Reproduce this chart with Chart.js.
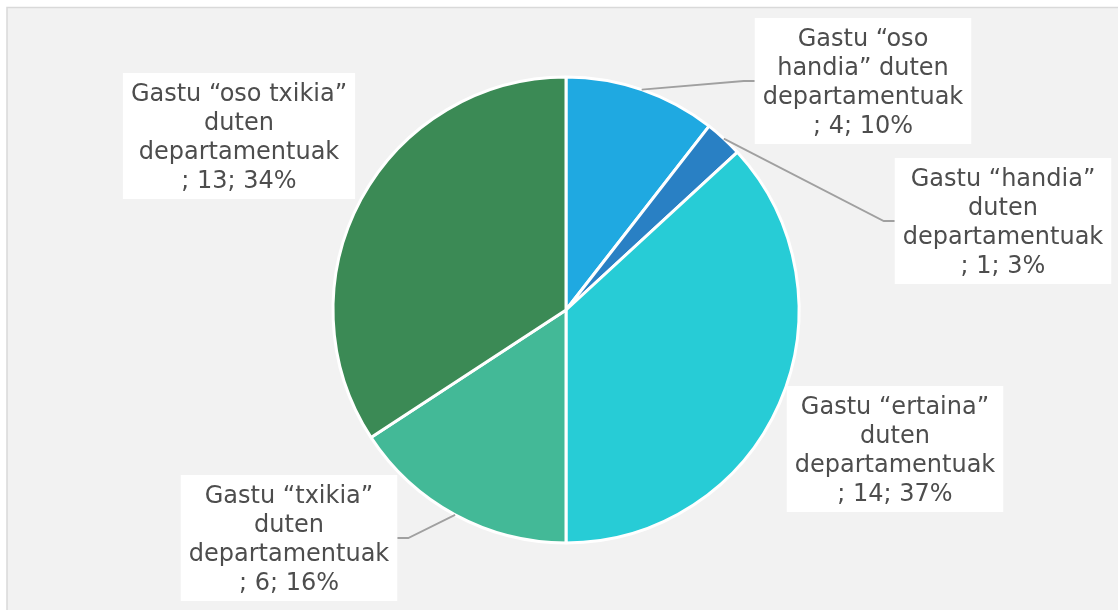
<!DOCTYPE html>
<html>
<head>
<meta charset="utf-8">
<script src="https://cdn.jsdelivr.net/npm/chart.js@4/dist/chart.umd.min.js"></script>
<style>
    body { margin: 0; background: #ffffff; }
    canvas { display: block; }
</style>
</head>
<body>
<canvas id="pieChart" width="1118" height="610"></canvas>
<script>
// Chart data
const categories = [
    'Gastu “oso handia” duten departamentuak',
    'Gastu “handia” duten departamentuak',
    'Gastu “ertaina” duten departamentuak',
    'Gastu “txikia” duten departamentuak',
    'Gastu “oso txikia” duten departamentuak'
];
const counts = [4, 1, 14, 6, 13];
const sliceColors = ['#1fa9e1', '#2980c4', '#27ccd6', '#43b997', '#3b8a55'];

// Label box centres (layout only) and whether a leader line is drawn
const labelBoxCenters = [[863, 81], [1003, 221], [895, 449], [289, 538], [239, 136]];
const labelHasLeader = [true, true, false, true, false];

const LABEL_FONT = '24px "DejaVu Sans"';
const LINE_HEIGHT = 29;

// Wrap text to a maximum width
function wrapText(ctx, text, maxWidth) {
    const words = text.split(' ');
    const lines = [];
    let current = '';
    words.forEach(word => {
        const test = current ? current + ' ' + word : word;
        if (current && ctx.measureText(test).width > maxWidth) {
            lines.push(current);
            current = word;
        } else {
            current = test;
        }
    });
    if (current) lines.push(current);
    return lines;
}

// Whole percentages that add up to 100 (largest remainder)
function roundedPercents(values) {
    const total = values.reduce((a, b) => a + b, 0);
    const raw = values.map(v => v / total * 100);
    const out = raw.map(Math.floor);
    let left = 100 - out.reduce((a, b) => a + b, 0);
    const order = raw.map((r, i) => i).sort((a, b) => (raw[b] - out[b]) - (raw[a] - out[a]));
    for (let k = 0; k < left; k++) out[order[k]] += 1;
    return out;
}

// Background panel with light border
const backgroundPlugin = {
    id: 'panelBackground',
    beforeDraw(chart) {
        const ctx = chart.ctx;
        ctx.save();
        ctx.fillStyle = '#ffffff';
        ctx.fillRect(0, 0, chart.width, chart.height);
        ctx.fillStyle = '#f2f2f2';
        ctx.fillRect(7, 7.5, chart.width, chart.height);
        ctx.strokeStyle = '#d9d9d9';
        ctx.lineWidth = 1.5;
        ctx.strokeRect(7, 7.5, chart.width + 10, chart.height + 10);
        ctx.restore();
    }
};

// Data labels in white boxes with leader lines
const calloutPlugin = {
    id: 'callouts',
    afterDatasetsDraw(chart) {
        const ctx = chart.ctx;
        const meta = chart.getDatasetMeta(0);
        const percents = roundedPercents(counts);
        ctx.save();
        ctx.font = LABEL_FONT;

        meta.data.forEach((arc, i) => {
            const lines = wrapText(ctx, categories[i], 225);
            lines.push('; ' + counts[i] + '; ' + percents[i] + '%');

            const widest = Math.max(...lines.map(l => ctx.measureText(l).width));
            const boxW = widest + 16;
            const boxH = lines.length * LINE_HEIGHT + 10;
            const [cx, cy] = labelBoxCenters[i];
            const left = cx - boxW / 2;
            const top = cy - boxH / 2;

            // Leader line from slice edge to box side
            if (labelHasLeader[i]) {
                const mid = (arc.startAngle + arc.endAngle) / 2;
                const sx = arc.x + Math.cos(mid) * arc.outerRadius;
                const sy = arc.y + Math.sin(mid) * arc.outerRadius;
                const onRight = cx > arc.x;
                const ex = onRight ? left : left + boxW;
                const elbowX = onRight ? ex - 11 : ex + 11;
                ctx.strokeStyle = '#a0a0a0';
                ctx.lineWidth = 1.8;
                ctx.beginPath();
                ctx.moveTo(sx, sy);
                ctx.lineTo(elbowX, cy);
                ctx.lineTo(ex, cy);
                ctx.stroke();
            }

            ctx.fillStyle = '#ffffff';
            ctx.fillRect(left, top, boxW, boxH);

            ctx.fillStyle = '#4d4d4d';
            ctx.textAlign = 'center';
            ctx.textBaseline = 'middle';
            lines.forEach((line, k) => {
                ctx.fillText(line, cx, top + 5 + LINE_HEIGHT * (k + 0.5) + 2);
            });
        });
        ctx.restore();
    }
};

new Chart(document.getElementById('pieChart'), {
    type: 'pie',
    data: {
        labels: categories,
        datasets: [{
            data: counts,
            backgroundColor: sliceColors,
            borderColor: '#ffffff',
            borderWidth: 3
        }]
    },
    options: {
        responsive: false,
        animation: false,
        layout: {
            padding: { top: 75.5, bottom: 65.5, left: 331.5, right: 317.5 }
        },
        plugins: {
            legend: { display: false },
            tooltip: { enabled: false }
        }
    },
    plugins: [backgroundPlugin, calloutPlugin]
});
</script>
</body>
</html>
